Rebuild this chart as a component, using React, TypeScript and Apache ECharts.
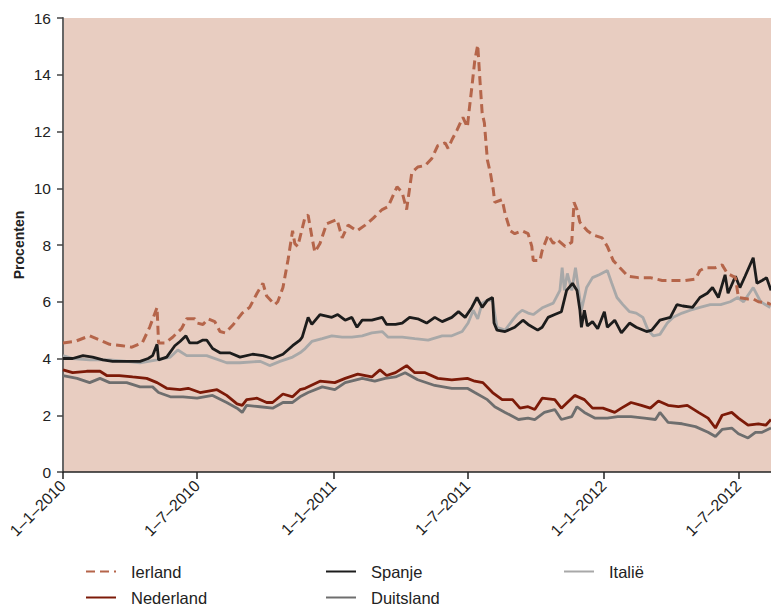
import React, { useEffect, useRef } from "react";
import * as echarts from "echarts";

type Pt = [string, number];

const xTickDates: string[] = ["2010-01-01", "2010-07-01", "2011-01-01", "2011-07-01", "2012-01-01", "2012-07-01"];
const yTicks: number[] = [0, 2, 4, 6, 8, 10, 12, 14, 16];

const ierland: Pt[] = [
  ["2010-01-01", 4.55], ["2010-01-17", 4.6], ["2010-02-06", 4.8], ["2010-02-20", 4.65], ["2010-03-05", 4.5],
  ["2010-03-22", 4.45], ["2010-04-04", 4.4], ["2010-04-18", 4.55], ["2010-04-28", 5.1], ["2010-05-08", 5.8],
  ["2010-05-10", 4.55], ["2010-05-19", 4.55], ["2010-05-29", 4.75], ["2010-06-10", 5.05], ["2010-06-17", 5.4],
  ["2010-06-28", 5.4], ["2010-07-01", 5.25], ["2010-07-09", 5.2], ["2010-07-16", 5.4], ["2010-07-25", 5.3],
  ["2010-08-01", 4.95], ["2010-08-08", 4.9], ["2010-08-19", 5.2], ["2010-08-31", 5.6], ["2010-09-10", 5.8],
  ["2010-09-20", 6.3], ["2010-09-28", 6.65], ["2010-10-03", 6.2], ["2010-10-14", 5.9], ["2010-10-18", 6.0],
  ["2010-10-25", 6.5], ["2010-11-01", 7.5], ["2010-11-07", 8.5], ["2010-11-10", 8.05], ["2010-11-14", 7.95],
  ["2010-11-24", 9.0], ["2010-11-28", 9.05], ["2010-12-03", 8.3], ["2010-12-07", 7.75], ["2010-12-14", 8.05],
  ["2010-12-23", 8.75], ["2011-01-06", 8.9], ["2011-01-13", 8.25], ["2011-01-21", 8.7], ["2011-02-02", 8.5],
  ["2011-02-13", 8.7], ["2011-02-24", 8.95], ["2011-03-08", 9.25], ["2011-03-16", 9.35], ["2011-03-28", 10.05],
  ["2011-04-04", 9.85], ["2011-04-10", 9.25], ["2011-04-17", 10.55], ["2011-04-25", 10.75], ["2011-05-05", 10.8],
  ["2011-05-14", 11.05], ["2011-05-22", 11.5], ["2011-06-01", 11.6], ["2011-06-05", 11.4], ["2011-06-10", 11.7],
  ["2011-06-17", 12.05], ["2011-06-25", 12.5], ["2011-07-01", 12.15], ["2011-07-03", 12.65], ["2011-07-07", 13.55],
  ["2011-07-11", 14.5], ["2011-07-15", 15.05], ["2011-07-18", 13.8], ["2011-07-21", 12.65], ["2011-07-24", 12.3],
  ["2011-07-28", 11.0], ["2011-08-01", 10.55], ["2011-08-05", 9.95], ["2011-08-07", 9.5], ["2011-08-17", 9.6],
  ["2011-08-21", 9.1], ["2011-08-28", 8.5], ["2011-09-03", 8.4], ["2011-09-13", 8.5], ["2011-09-21", 8.4],
  ["2011-09-26", 7.95], ["2011-09-28", 7.45], ["2011-10-07", 7.45], ["2011-10-10", 7.8], ["2011-10-18", 8.35],
  ["2011-10-25", 8.05], ["2011-10-30", 8.2], ["2011-11-10", 7.95], ["2011-11-19", 8.1], ["2011-11-22", 9.5],
  ["2011-11-26", 9.25], ["2011-11-30", 8.8], ["2011-12-10", 8.5], ["2011-12-18", 8.35], ["2011-12-30", 8.25],
  ["2012-01-06", 7.95], ["2012-01-14", 7.45], ["2012-01-23", 7.2], ["2012-02-03", 6.9], ["2012-02-17", 6.85],
  ["2012-03-04", 6.85], ["2012-03-20", 6.75], ["2012-04-03", 6.75], ["2012-04-20", 6.75], ["2012-05-04", 6.8],
  ["2012-05-10", 7.1], ["2012-05-17", 7.2], ["2012-05-31", 7.2], ["2012-06-09", 7.3], ["2012-06-16", 7.0],
  ["2012-06-27", 6.85], ["2012-07-01", 6.15], ["2012-07-14", 6.1], ["2012-07-21", 6.1], ["2012-07-28", 6.0],
  ["2012-08-10", 5.95], ["2012-08-14", 5.9],
];

const spanje: Pt[] = [
  ["2010-01-01", 4.0], ["2010-01-14", 4.0], ["2010-01-28", 4.1], ["2010-02-10", 4.05], ["2010-02-24", 3.95],
  ["2010-03-09", 3.9], ["2010-03-28", 3.9], ["2010-04-15", 3.9], ["2010-04-26", 4.0], ["2010-05-02", 4.1],
  ["2010-05-08", 4.5], ["2010-05-10", 3.95], ["2010-05-21", 4.05], ["2010-06-01", 4.45], ["2010-06-08", 4.6],
  ["2010-06-16", 4.8], ["2010-06-21", 4.55], ["2010-07-01", 4.55], ["2010-07-09", 4.65], ["2010-07-14", 4.65],
  ["2010-07-22", 4.35], ["2010-08-01", 4.2], ["2010-08-14", 4.2], ["2010-08-28", 4.05], ["2010-09-14", 4.15],
  ["2010-09-28", 4.1], ["2010-10-11", 4.0], ["2010-10-25", 4.15], ["2010-11-07", 4.45], ["2010-11-17", 4.65],
  ["2010-11-20", 4.75], ["2010-11-28", 5.45], ["2010-12-03", 5.2], ["2010-12-14", 5.55], ["2010-12-30", 5.45],
  ["2011-01-07", 5.55], ["2011-01-17", 5.35], ["2011-01-26", 5.45], ["2011-02-02", 5.1], ["2011-02-09", 5.35],
  ["2011-02-22", 5.35], ["2011-03-08", 5.45], ["2011-03-14", 5.2], ["2011-03-26", 5.2], ["2011-04-04", 5.25],
  ["2011-04-14", 5.45], ["2011-04-25", 5.4], ["2011-05-07", 5.25], ["2011-05-18", 5.45], ["2011-05-28", 5.3],
  ["2011-06-10", 5.45], ["2011-06-19", 5.65], ["2011-06-28", 5.45], ["2011-07-07", 5.8], ["2011-07-14", 6.15],
  ["2011-07-21", 5.8], ["2011-07-28", 6.05], ["2011-08-04", 6.15], ["2011-08-06", 5.25], ["2011-08-10", 5.0],
  ["2011-08-21", 4.95], ["2011-09-03", 5.1], ["2011-09-14", 5.35], ["2011-09-21", 5.2], ["2011-10-04", 5.0],
  ["2011-10-10", 5.1], ["2011-10-18", 5.45], ["2011-10-27", 5.55], ["2011-11-05", 5.65], ["2011-11-12", 6.4],
  ["2011-11-20", 6.65], ["2011-11-26", 6.4], ["2011-11-30", 5.7], ["2011-12-02", 5.1], ["2011-12-06", 5.7],
  ["2011-12-10", 5.15], ["2011-12-17", 5.3], ["2011-12-24", 5.05], ["2012-01-02", 5.65], ["2012-01-06", 5.1],
  ["2012-01-16", 5.35], ["2012-01-25", 4.9], ["2012-02-05", 5.25], ["2012-02-14", 5.1], ["2012-02-28", 4.95],
  ["2012-03-06", 5.0], ["2012-03-17", 5.35], ["2012-03-31", 5.45], ["2012-04-09", 5.9], ["2012-04-17", 5.85],
  ["2012-04-30", 5.8], ["2012-05-10", 6.15], ["2012-05-20", 6.3], ["2012-05-27", 6.5], ["2012-06-04", 6.15],
  ["2012-06-13", 6.95], ["2012-06-17", 6.3], ["2012-06-27", 6.9], ["2012-07-03", 6.5], ["2012-07-10", 6.9],
  ["2012-07-21", 7.55], ["2012-07-26", 6.65], ["2012-08-02", 6.75], ["2012-08-08", 6.85], ["2012-08-14", 6.4],
];

const italie: Pt[] = [
  ["2010-01-01", 4.1], ["2010-01-14", 4.0], ["2010-02-06", 3.95], ["2010-03-05", 3.95], ["2010-03-28", 3.9],
  ["2010-04-15", 3.85], ["2010-05-08", 3.95], ["2010-05-26", 4.05], ["2010-06-05", 4.3], ["2010-06-17", 4.1],
  ["2010-07-14", 4.1], ["2010-08-10", 3.85], ["2010-08-28", 3.85], ["2010-09-24", 3.9], ["2010-10-07", 3.75],
  ["2010-10-21", 3.9], ["2010-11-07", 4.05], ["2010-11-17", 4.2], ["2010-11-24", 4.35], ["2010-12-03", 4.6],
  ["2010-12-17", 4.7], ["2010-12-30", 4.8], ["2011-01-13", 4.75], ["2011-01-26", 4.75], ["2011-02-09", 4.8],
  ["2011-02-22", 4.9], ["2011-03-08", 4.95], ["2011-03-16", 4.75], ["2011-04-04", 4.75], ["2011-04-21", 4.7],
  ["2011-05-09", 4.65], ["2011-05-28", 4.8], ["2011-06-10", 4.8], ["2011-06-24", 4.95], ["2011-07-02", 5.25],
  ["2011-07-09", 5.7], ["2011-07-15", 5.4], ["2011-07-21", 5.95], ["2011-07-28", 6.05], ["2011-08-04", 6.05],
  ["2011-08-10", 5.1], ["2011-08-21", 5.0], ["2011-08-31", 5.35], ["2011-09-06", 5.55], ["2011-09-13", 5.7],
  ["2011-09-21", 5.6], ["2011-09-28", 5.55], ["2011-10-11", 5.8], ["2011-10-25", 5.95], ["2011-11-03", 6.4],
  ["2011-11-06", 7.2], ["2011-11-09", 6.4], ["2011-11-13", 7.0], ["2011-11-19", 6.4], ["2011-11-24", 7.2],
  ["2011-12-02", 5.7], ["2011-12-09", 6.5], ["2011-12-17", 6.85], ["2011-12-26", 6.95], ["2012-01-06", 7.1],
  ["2012-01-12", 6.65], ["2012-01-19", 6.15], ["2012-01-27", 5.9], ["2012-02-05", 5.65], ["2012-02-14", 5.6],
  ["2012-02-23", 5.45], ["2012-03-01", 5.0], ["2012-03-08", 4.8], ["2012-03-17", 4.85], ["2012-03-27", 5.25],
  ["2012-04-04", 5.45], ["2012-04-16", 5.6], ["2012-04-27", 5.7], ["2012-05-10", 5.8], ["2012-05-24", 5.9],
  ["2012-06-07", 5.9], ["2012-06-20", 6.0], ["2012-06-30", 6.15], ["2012-07-08", 6.0], ["2012-07-21", 6.5],
  ["2012-07-31", 6.0], ["2012-08-13", 5.8],
];

const nederland: Pt[] = [
  ["2010-01-01", 3.6], ["2010-01-14", 3.5], ["2010-02-02", 3.55], ["2010-02-20", 3.55], ["2010-03-01", 3.4],
  ["2010-03-18", 3.4], ["2010-04-05", 3.35], ["2010-04-24", 3.3], ["2010-05-08", 3.15], ["2010-05-21", 2.95],
  ["2010-06-08", 2.9], ["2010-06-19", 2.95], ["2010-07-05", 2.8], ["2010-07-28", 2.9], ["2010-08-10", 2.7],
  ["2010-08-24", 2.4], ["2010-08-31", 2.35], ["2010-09-06", 2.55], ["2010-09-20", 2.6], ["2010-10-03", 2.45],
  ["2010-10-11", 2.45], ["2010-10-25", 2.75], ["2010-11-07", 2.65], ["2010-11-17", 2.9], ["2010-11-24", 2.95],
  ["2010-12-14", 3.2], ["2011-01-03", 3.15], ["2011-01-17", 3.3], ["2011-02-03", 3.45], ["2011-02-22", 3.35],
  ["2011-03-05", 3.6], ["2011-03-14", 3.4], ["2011-03-26", 3.5], ["2011-04-10", 3.75], ["2011-04-21", 3.5],
  ["2011-05-05", 3.5], ["2011-05-22", 3.3], ["2011-06-10", 3.25], ["2011-07-01", 3.3], ["2011-07-11", 3.2],
  ["2011-07-22", 3.15], ["2011-08-04", 2.8], ["2011-08-17", 2.55], ["2011-08-31", 2.55], ["2011-09-10", 2.25],
  ["2011-09-21", 2.3], ["2011-09-30", 2.2], ["2011-10-10", 2.6], ["2011-10-27", 2.55], ["2011-11-05", 2.25],
  ["2011-11-13", 2.45], ["2011-11-23", 2.7], ["2011-12-06", 2.55], ["2011-12-17", 2.25], ["2011-12-31", 2.25],
  ["2012-01-16", 2.1], ["2012-01-25", 2.25], ["2012-02-07", 2.45], ["2012-02-21", 2.35], ["2012-03-04", 2.25],
  ["2012-03-15", 2.5], ["2012-03-28", 2.35], ["2012-04-11", 2.3], ["2012-04-23", 2.35], ["2012-05-08", 2.1],
  ["2012-05-21", 1.9], ["2012-05-31", 1.55], ["2012-06-09", 2.0], ["2012-06-22", 2.1], ["2012-07-01", 1.9],
  ["2012-07-14", 1.65], ["2012-07-28", 1.7], ["2012-08-07", 1.65], ["2012-08-14", 1.85],
];

const duitsland: Pt[] = [
  ["2010-01-01", 3.4], ["2010-01-20", 3.3], ["2010-02-06", 3.15], ["2010-02-20", 3.3], ["2010-03-05", 3.15],
  ["2010-03-28", 3.15], ["2010-04-15", 3.0], ["2010-05-02", 3.0], ["2010-05-10", 2.8], ["2010-05-26", 2.65],
  ["2010-06-12", 2.65], ["2010-07-01", 2.6], ["2010-07-22", 2.7], ["2010-08-10", 2.45], ["2010-08-24", 2.25],
  ["2010-08-31", 2.1], ["2010-09-06", 2.35], ["2010-09-24", 2.3], ["2010-10-11", 2.25], ["2010-10-25", 2.45],
  ["2010-11-07", 2.45], ["2010-11-17", 2.65], ["2010-11-28", 2.8], ["2010-12-17", 3.0], ["2011-01-03", 2.9],
  ["2011-01-17", 3.15], ["2011-02-09", 3.3], ["2011-02-26", 3.2], ["2011-03-12", 3.3], ["2011-03-26", 3.35],
  ["2011-04-08", 3.5], ["2011-04-25", 3.25], ["2011-05-18", 3.05], ["2011-06-10", 2.95], ["2011-07-01", 2.95],
  ["2011-07-11", 2.8], ["2011-07-28", 2.55], ["2011-08-07", 2.3], ["2011-08-21", 2.1], ["2011-09-08", 1.85],
  ["2011-09-21", 1.9], ["2011-09-30", 1.85], ["2011-10-13", 2.1], ["2011-10-27", 2.2], ["2011-11-05", 1.85],
  ["2011-11-19", 1.95], ["2011-11-26", 2.3], ["2011-12-06", 2.1], ["2011-12-20", 1.9], ["2012-01-06", 1.9],
  ["2012-01-20", 1.95], ["2012-02-07", 1.95], ["2012-02-25", 1.9], ["2012-03-11", 1.85], ["2012-03-17", 2.1],
  ["2012-03-28", 1.75], ["2012-04-16", 1.7], ["2012-05-04", 1.6], ["2012-05-21", 1.4], ["2012-05-31", 1.25],
  ["2012-06-09", 1.5], ["2012-06-22", 1.55], ["2012-07-01", 1.35], ["2012-07-14", 1.2], ["2012-07-24", 1.4],
  ["2012-08-02", 1.4], ["2012-08-14", 1.55],
];

const seriesNames = ["Ierland", "Nederland", "Spanje", "Duitsland", "Italië"];
const FONT = "Liberation Sans, Arial, Helvetica, sans-serif";

function toTs(s: string): number {
  const [y, m, d] = s.split("-").map(Number);
  return Date.UTC(y, m - 1, d);
}

export default function App() {
  const ref = useRef<HTMLDivElement>(null);
  useEffect(() => {
    if (!ref.current) return;
    const chart = echarts.init(ref.current, null, { renderer: "svg" });
    const tickTs = xTickDates.map(toTs);
    const mk = (name: string, data: Pt[], color: string, width: number, dashed = false, z = 2) => ({
      name,
      type: "line",
      data: data.map((p) => [toTs(p[0]), p[1]]),
      symbol: "none",
      z,
      lineStyle: dashed ? { color, width, type: [9, 5] } : { color, width },
      itemStyle: { color },
    });
    const legendText = { fontFamily: FONT, fontSize: 16.5, color: "#222", padding: [0, 0, 0, 10] };
    const lg = (name: string, left: number, top: number) => ({
      data: [name],
      orient: "horizontal",
      left,
      top,
      padding: 0,
      itemWidth: 30,
      itemHeight: 14,
      itemStyle: { opacity: 0 },
      textStyle: legendText,
    });
    chart.setOption({
      animation: false,
      grid: {
        left: 63,
        right: 0,
        top: 18,
        bottom: 133,
        show: true,
        backgroundColor: "#e8cdc1",
        borderWidth: 0,
      },
      legend: [
        lg(seriesNames[0], 85, 563),
        lg(seriesNames[1], 85, 589),
        lg(seriesNames[2], 325, 563),
        lg(seriesNames[3], 325, 589),
        lg(seriesNames[4], 563, 563),
      ],
      xAxis: {
        type: "value",
        min: toTs("2010-01-01"),
        max: toTs("2012-08-14"),
        axisLine: { show: true, lineStyle: { color: "#222", width: 1.5 } },
        axisTick: { show: true, customValues: tickTs, length: 7, lineStyle: { color: "#222", width: 1.5 } },
        axisLabel: {
          customValues: tickTs,
          rotate: 45,
          margin: 11,
          fontFamily: FONT,
          fontSize: 16,
          color: "#222",
          formatter: (v: number) => {
            const d = new Date(v);
            return `${d.getUTCDate()}–${d.getUTCMonth() + 1}–${d.getUTCFullYear()}`;
          },
        },
        splitLine: { show: false },
      },
      yAxis: {
        type: "value",
        min: 0,
        max: 16,
        interval: 2,
        name: "Procenten",
        nameLocation: "middle",
        nameGap: 37,
        nameMoveOverlap: false,
        nameTextStyle: { fontFamily: FONT, fontSize: 14, fontWeight: "bold", color: "#222" },
        axisLine: { show: true, lineStyle: { color: "#666", width: 2 } },
        axisTick: { show: true, length: 6, lineStyle: { color: "#444", width: 1.5 } },
        axisLabel: {
          fontFamily: FONT,
          fontSize: 15.5,
          color: "#222",
          margin: 12,
          formatter: (v: number) => (yTicks.includes(v) ? String(v) : ""),
        },
        splitLine: { show: false },
      },
      series: [
        mk(seriesNames[4], italie, "#a8a8a8", 2.8, false, 2),
        mk(seriesNames[3], duitsland, "#6e6e6e", 2.8, false, 3),
        mk(seriesNames[1], nederland, "#7c1a08", 2.8, false, 4),
        mk(seriesNames[2], spanje, "#1c1c1c", 2.8, false, 5),
        mk(seriesNames[0], ierland, "#b5654a", 3, true, 6),
      ],
    });
    return () => chart.dispose();
  }, []);
  return (
    <div
      ref={ref}
      style={{ position: "fixed", left: 0, top: 0, width: 771, height: 605, background: "#fff" }}
    />
  );
}
